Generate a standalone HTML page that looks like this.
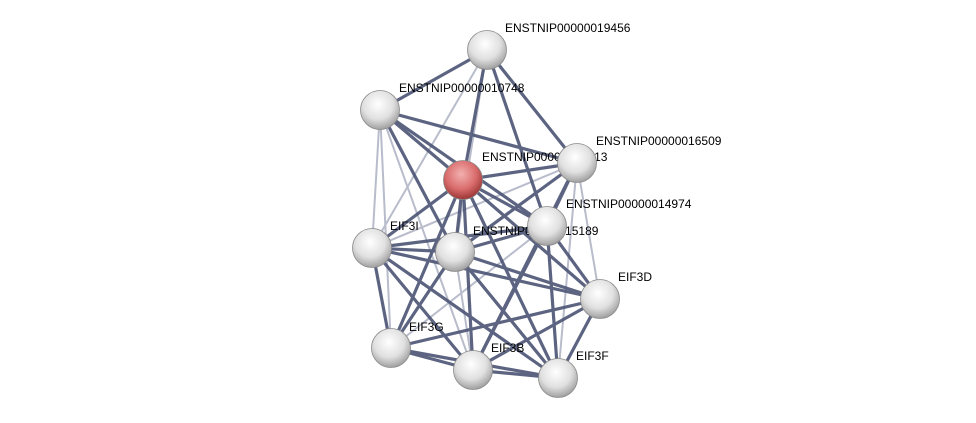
<!DOCTYPE html>
<html><head><meta charset="utf-8"><style>
html,body{margin:0;padding:0;background:#fff;}
svg{display:block;}
text{font-family:"Liberation Sans",sans-serif;font-size:12px;fill:#000;}
</style></head><body>
<svg width="976" height="423" viewBox="0 0 976 423">
<defs>
<radialGradient id="g" cx="45%" cy="35%" r="65%">
<stop offset="0" stop-color="#ffffff"/><stop offset="0.6" stop-color="#e0e0e0"/><stop offset="1" stop-color="#a0a0a0"/>
</radialGradient>
<radialGradient id="r" cx="45%" cy="35%" r="65%">
<stop offset="0" stop-color="#f3b0b0"/><stop offset="0.6" stop-color="#d96c6c"/><stop offset="1" stop-color="#9b3535"/>
</radialGradient>
</defs>
<g stroke-linecap="round">
<g stroke="#b8bccb" stroke-width="2">
<line x1="487" y1="50" x2="372" y2="248"/>
<line x1="487" y1="50" x2="455" y2="252"/>
<line x1="380" y1="110" x2="473" y2="370"/>
<line x1="380" y1="110" x2="391" y2="348"/>
<line x1="577" y1="163" x2="600" y2="299"/>
<line x1="577" y1="163" x2="558" y2="378"/>
<line x1="577" y1="163" x2="372" y2="248"/>
<line x1="547" y1="226" x2="391" y2="348"/>
<line x1="455" y1="252" x2="473" y2="370"/>
<line x1="380" y1="110" x2="372" y2="248"/>
</g>
<g stroke="#4b5474" stroke-width="3.2" opacity="0.9">
<line x1="487" y1="50" x2="380" y2="110"/>
<line x1="487" y1="50" x2="463" y2="180"/>
<line x1="487" y1="50" x2="577" y2="163"/>
<line x1="487" y1="50" x2="547" y2="226"/>
<line x1="380" y1="110" x2="463" y2="180"/>
<line x1="380" y1="110" x2="577" y2="163"/>
<line x1="380" y1="110" x2="547" y2="226"/>
<line x1="380" y1="110" x2="455" y2="252"/>
<line x1="463" y1="180" x2="577" y2="163"/>
<line x1="463" y1="180" x2="547" y2="226"/>
<line x1="463" y1="180" x2="372" y2="248"/>
<line x1="463" y1="180" x2="455" y2="252"/>
<line x1="463" y1="180" x2="600" y2="299"/>
<line x1="463" y1="180" x2="391" y2="348"/>
<line x1="463" y1="180" x2="473" y2="370"/>
<line x1="463" y1="180" x2="558" y2="378"/>
<line x1="577" y1="163" x2="547" y2="226"/>
<line x1="577" y1="163" x2="455" y2="252"/>
<line x1="577" y1="163" x2="473" y2="370"/>
<line x1="547" y1="226" x2="372" y2="248"/>
<line x1="547" y1="226" x2="455" y2="252"/>
<line x1="547" y1="226" x2="600" y2="299"/>
<line x1="547" y1="226" x2="473" y2="370"/>
<line x1="547" y1="226" x2="558" y2="378"/>
<line x1="372" y1="248" x2="455" y2="252"/>
<line x1="372" y1="248" x2="600" y2="299"/>
<line x1="372" y1="248" x2="391" y2="348"/>
<line x1="372" y1="248" x2="473" y2="370"/>
<line x1="372" y1="248" x2="558" y2="378"/>
<line x1="455" y1="252" x2="600" y2="299"/>
<line x1="455" y1="252" x2="391" y2="348"/>
<line x1="455" y1="252" x2="558" y2="378"/>
<line x1="600" y1="299" x2="391" y2="348"/>
<line x1="600" y1="299" x2="473" y2="370"/>
<line x1="600" y1="299" x2="558" y2="378"/>
<line x1="391" y1="348" x2="473" y2="370"/>
<line x1="391" y1="348" x2="558" y2="378"/>
<line x1="473" y1="370" x2="558" y2="378"/>
</g>
</g>
<g>
<text x="505" y="32">ENSTNIP00000019456</text>
<text x="399" y="92">ENSTNIP00000010748</text>
<text x="482" y="161">ENSTNIP00000018313</text>
<text x="596" y="145">ENSTNIP00000016509</text>
<text x="566" y="208">ENSTNIP00000014974</text>
<text x="390" y="230">EIF3I</text>
<text x="473" y="235">ENSTNIP00000015189</text>
<text x="618" y="281">EIF3D</text>
<text x="409" y="331">EIF3G</text>
<text x="491" y="352">EIF3B</text>
<text x="576" y="360">EIF3F</text>
</g>
<g stroke="#8a8a8a" stroke-width="0.8">
<circle cx="487" cy="50" r="19.5" fill="url(#g)"/>
<circle cx="380" cy="110" r="19.5" fill="url(#g)"/>
<circle cx="463" cy="180" r="19.5" fill="url(#r)"/>
<circle cx="577" cy="163" r="19.5" fill="url(#g)"/>
<circle cx="547" cy="226" r="19.5" fill="url(#g)"/>
<circle cx="372" cy="248" r="19.5" fill="url(#g)"/>
<circle cx="455" cy="252" r="19.5" fill="url(#g)"/>
<circle cx="600" cy="299" r="19.5" fill="url(#g)"/>
<circle cx="391" cy="348" r="19.5" fill="url(#g)"/>
<circle cx="473" cy="370" r="19.5" fill="url(#g)"/>
<circle cx="558" cy="378" r="19.5" fill="url(#g)"/>
</g>
</svg>
</body></html>
